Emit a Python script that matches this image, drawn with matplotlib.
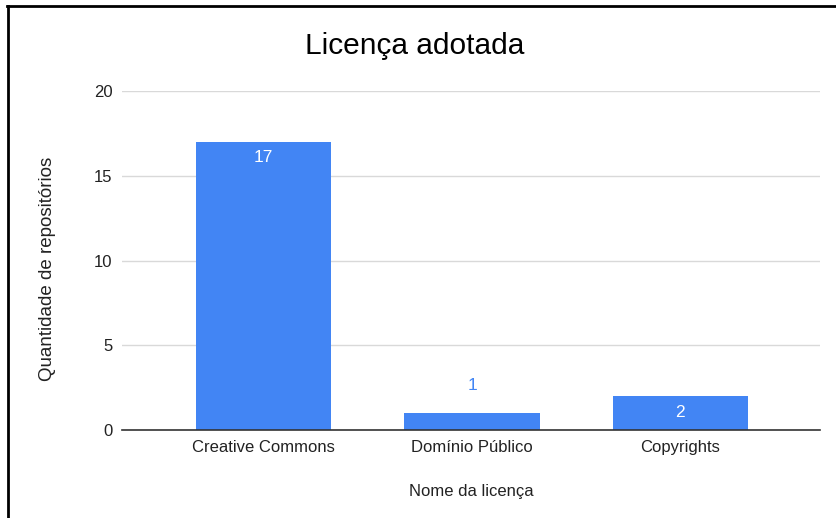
import matplotlib.pyplot as plt
from matplotlib.lines import Line2D

# --- Data ---
licencas = ["Creative Commons", "Domínio Público", "Copyrights"]
quantidades = [17, 1, 2]
y_ticks = [0, 5, 10, 15, 20]

# --- Style ---
plt.rcParams["font.family"] = ["Liberation Sans", "DejaVu Sans"]
bar_color = "#4285f4"

fig = plt.figure(figsize=(8.37, 5.18), dpi=100)
ax = fig.add_axes([0.1458, 0.1699, 0.8339, 0.6544])

x = list(range(len(licencas)))
bars = ax.bar(x, quantidades, width=0.65, color=bar_color, zorder=3)

ax.set_xlim(-0.68, 2.67)
ax.set_ylim(0, 20)
ax.set_yticks(y_ticks)
ax.set_xticks(x)
ax.set_xticklabels(licencas)

ax.grid(axis="y", color="#d9d9d9", linewidth=1, zorder=0)
for side in ["top", "right", "left"]:
    ax.spines[side].set_visible(False)
ax.spines["bottom"].set_color("#333333")
ax.spines["bottom"].set_linewidth(1.2)
ax.spines["bottom"].set_zorder(4)
ax.tick_params(axis="both", length=0, labelsize=12, colors="#222222")
ax.tick_params(axis="y", pad=7)
ax.tick_params(axis="x", pad=7)

# value labels: inside the bar when it is tall enough, above it otherwise
for rect, val in zip(bars, quantidades):
    cx = rect.get_x() + rect.get_width() / 2
    if val >= 2:
        ax.annotate(str(val), (cx, val), xytext=(0, -16), textcoords="offset pixels",
                    ha="center", va="center", color="white", fontsize=12.5, zorder=5)
    else:
        ax.annotate(str(val), (cx, val), xytext=(0, 28), textcoords="offset pixels",
                    ha="center", va="center", color=bar_color, fontsize=12.5, zorder=5)

ax.set_xlabel("Nome da licença", fontsize=12, color="#222222")
ax.xaxis.set_label_coords(0.5, -0.16)
ax.set_ylabel("Quantidade de repositórios", fontsize=13.5, color="#222222")
ax.yaxis.set_label_coords(-0.094, 0.475)
fig.text(0.496, 0.911, "Licença adotada", ha="center", va="center", fontsize=21.5)

# black frame of the screenshot (top and left)
fig.add_artist(Line2D([7 / 837, 1], [1 - 6 / 518, 1 - 6 / 518], color="black", linewidth=2,
                      transform=fig.transFigure))
fig.add_artist(Line2D([8.5 / 837, 8.5 / 837], [0, 1 - 6 / 518], color="black", linewidth=2,
                      transform=fig.transFigure))

fig.savefig("out.png", dpi=100)
